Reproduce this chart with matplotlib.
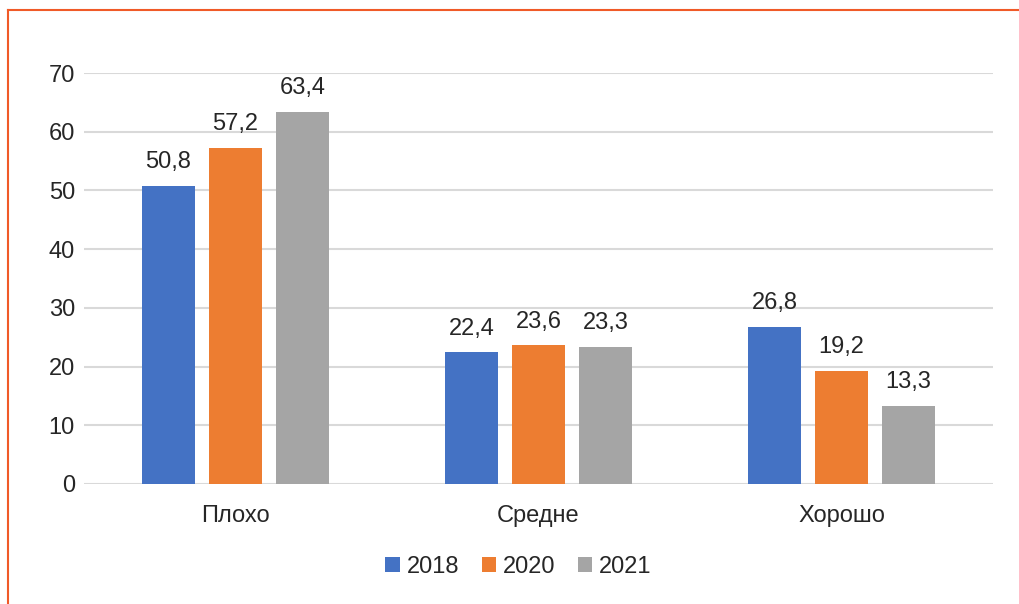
import matplotlib
matplotlib.use("Agg")
import matplotlib.pyplot as plt
import numpy as np

plt.rcParams['font.family'] = ['Liberation Sans', 'DejaVu Sans']

categories = ['Плохо', 'Средне', 'Хорошо']
years = ['2018', '2020', '2021']
values_2018 = [50.8, 22.4, 26.8]
values_2020 = [57.2, 23.6, 19.2]
values_2021 = [63.4, 23.3, 13.3]
series = [values_2018, values_2020, values_2021]
colors = ['#4472c4', '#ed7d31', '#a5a5a5']

fig = plt.figure(figsize=(10.19, 6.04), dpi=100)
ax = fig.add_axes([0.0824, 0.1987, 0.8921, 0.6803])

x = np.arange(len(categories))
width = 0.175
step = 0.221
for i, (vals, col, yr) in enumerate(zip(series, colors, years)):
    pos = x + (i - 1) * step
    bars = ax.bar(pos, vals, width, color=col, label=yr, zorder=3)
    for b, v in zip(bars, vals):
        ax.text(b.get_x() + b.get_width() / 2, v + 2.2, f'{v:.1f}'.replace('.', ','),
                ha='center', va='bottom', fontsize=17, color='#262626')

ax.set_xlim(-0.5, 2.5)
ax.set_ylim(0, 70)
ax.set_yticks(range(0, 71, 10))
ax.set_xticks(x)
ax.set_xticklabels(categories)
ax.tick_params(axis='both', length=0, labelsize=17, labelcolor='#262626')
ax.tick_params(axis='y', pad=6.5)
ax.tick_params(axis='x', pad=15)
ax.grid(axis='y', color='#d9d9d9', lw=1.5, zorder=0)
for s in ax.spines.values():
    s.set_visible(False)

ax.legend(loc='center', bbox_to_anchor=(0.478, -0.202), ncol=3, frameon=False,
          fontsize=17, handlelength=0.6, handleheight=0.6, handletextpad=0.3,
          columnspacing=0.95, labelcolor='#262626')

# orange frame lines on top and left
fig.add_artist(plt.Line2D([8 / 1019, 1], [1 - 10 / 604, 1 - 10 / 604], color='#f05a28', lw=1.5,
                          transform=fig.transFigure))
fig.add_artist(plt.Line2D([8 / 1019, 8 / 1019], [0, 1 - 10 / 604], color='#f05a28', lw=1.5,
                          transform=fig.transFigure))

fig.savefig('out.png', dpi=100)
